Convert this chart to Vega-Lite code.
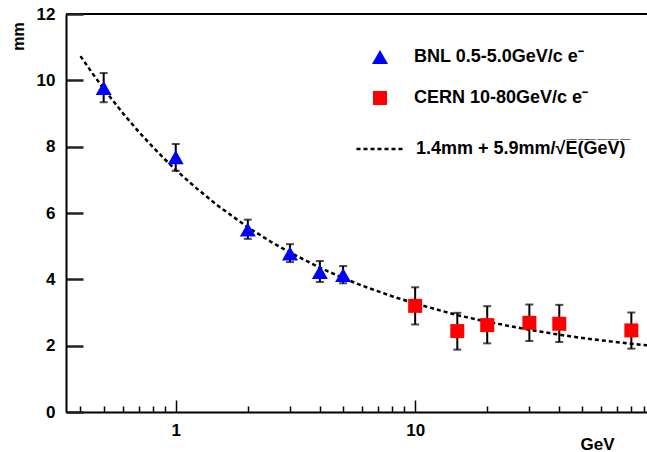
{
  "$schema": "https://vega.github.io/schema/vega-lite/v6.json",
  "width": 581,
  "height": 398,
  "autosize": {"type": "none"},
  "padding": {"left": 66, "top": 14, "right": 0, "bottom": 40},
  "background": "white",
  "config": {
    "view": {"stroke": "black", "strokeWidth": 2, "strokeDash": [581, 3000]},
    "font": "Liberation Sans"
  },
  "datasets": {
    "pts": [
      {"E": 0.5, "y": 9.77, "lo": 9.34, "hi": 10.22, "series": "BNL 0.5-5.0GeV/c e⁻"},
      {"E": 1, "y": 7.68, "lo": 7.27, "hi": 8.08, "series": "BNL 0.5-5.0GeV/c e⁻"},
      {"E": 2, "y": 5.5, "lo": 5.22, "hi": 5.8, "series": "BNL 0.5-5.0GeV/c e⁻"},
      {"E": 3, "y": 4.78, "lo": 4.52, "hi": 5.06, "series": "BNL 0.5-5.0GeV/c e⁻"},
      {"E": 4, "y": 4.22, "lo": 3.92, "hi": 4.55, "series": "BNL 0.5-5.0GeV/c e⁻"},
      {"E": 5, "y": 4.13, "lo": 3.88, "hi": 4.4, "series": "BNL 0.5-5.0GeV/c e⁻"},
      {"E": 10, "y": 3.2, "lo": 2.64, "hi": 3.76, "series": "CERN 10-80GeV/c e⁻"},
      {"E": 15, "y": 2.44, "lo": 1.88, "hi": 2.99, "series": "CERN 10-80GeV/c e⁻"},
      {"E": 20, "y": 2.62, "lo": 2.07, "hi": 3.19, "series": "CERN 10-80GeV/c e⁻"},
      {"E": 30, "y": 2.69, "lo": 2.14, "hi": 3.24, "series": "CERN 10-80GeV/c e⁻"},
      {"E": 40, "y": 2.66, "lo": 2.11, "hi": 3.23, "series": "CERN 10-80GeV/c e⁻"},
      {"E": 80, "y": 2.46, "lo": 1.91, "hi": 3.0, "series": "CERN 10-80GeV/c e⁻"}
    ],
    "fit": [
      {"E": 0.4, "y": 10.73, "label": "1.4mm + 5.9mm/√E\u0305(\u0305G\u0305e\u0305V\u0305)\u0305"},
      {"E": 0.45, "y": 10.2, "label": "1.4mm + 5.9mm/√E\u0305(\u0305G\u0305e\u0305V\u0305)\u0305"},
      {"E": 0.5, "y": 9.74, "label": "1.4mm + 5.9mm/√E\u0305(\u0305G\u0305e\u0305V\u0305)\u0305"},
      {"E": 0.6, "y": 9.02, "label": "1.4mm + 5.9mm/√E\u0305(\u0305G\u0305e\u0305V\u0305)\u0305"},
      {"E": 0.7, "y": 8.45, "label": "1.4mm + 5.9mm/√E\u0305(\u0305G\u0305e\u0305V\u0305)\u0305"},
      {"E": 0.8, "y": 8.0, "label": "1.4mm + 5.9mm/√E\u0305(\u0305G\u0305e\u0305V\u0305)\u0305"},
      {"E": 0.9, "y": 7.62, "label": "1.4mm + 5.9mm/√E\u0305(\u0305G\u0305e\u0305V\u0305)\u0305"},
      {"E": 1, "y": 7.3, "label": "1.4mm + 5.9mm/√E\u0305(\u0305G\u0305e\u0305V\u0305)\u0305"},
      {"E": 1.2, "y": 6.79, "label": "1.4mm + 5.9mm/√E\u0305(\u0305G\u0305e\u0305V\u0305)\u0305"},
      {"E": 1.5, "y": 6.22, "label": "1.4mm + 5.9mm/√E\u0305(\u0305G\u0305e\u0305V\u0305)\u0305"},
      {"E": 2, "y": 5.57, "label": "1.4mm + 5.9mm/√E\u0305(\u0305G\u0305e\u0305V\u0305)\u0305"},
      {"E": 2.5, "y": 5.13, "label": "1.4mm + 5.9mm/√E\u0305(\u0305G\u0305e\u0305V\u0305)\u0305"},
      {"E": 3, "y": 4.81, "label": "1.4mm + 5.9mm/√E\u0305(\u0305G\u0305e\u0305V\u0305)\u0305"},
      {"E": 4, "y": 4.35, "label": "1.4mm + 5.9mm/√E\u0305(\u0305G\u0305e\u0305V\u0305)\u0305"},
      {"E": 5, "y": 4.04, "label": "1.4mm + 5.9mm/√E\u0305(\u0305G\u0305e\u0305V\u0305)\u0305"},
      {"E": 6, "y": 3.81, "label": "1.4mm + 5.9mm/√E\u0305(\u0305G\u0305e\u0305V\u0305)\u0305"},
      {"E": 8, "y": 3.49, "label": "1.4mm + 5.9mm/√E\u0305(\u0305G\u0305e\u0305V\u0305)\u0305"},
      {"E": 10, "y": 3.27, "label": "1.4mm + 5.9mm/√E\u0305(\u0305G\u0305e\u0305V\u0305)\u0305"},
      {"E": 15, "y": 2.92, "label": "1.4mm + 5.9mm/√E\u0305(\u0305G\u0305e\u0305V\u0305)\u0305"},
      {"E": 20, "y": 2.72, "label": "1.4mm + 5.9mm/√E\u0305(\u0305G\u0305e\u0305V\u0305)\u0305"},
      {"E": 30, "y": 2.48, "label": "1.4mm + 5.9mm/√E\u0305(\u0305G\u0305e\u0305V\u0305)\u0305"},
      {"E": 40, "y": 2.33, "label": "1.4mm + 5.9mm/√E\u0305(\u0305G\u0305e\u0305V\u0305)\u0305"},
      {"E": 50, "y": 2.23, "label": "1.4mm + 5.9mm/√E\u0305(\u0305G\u0305e\u0305V\u0305)\u0305"},
      {"E": 60, "y": 2.16, "label": "1.4mm + 5.9mm/√E\u0305(\u0305G\u0305e\u0305V\u0305)\u0305"},
      {"E": 80, "y": 2.06, "label": "1.4mm + 5.9mm/√E\u0305(\u0305G\u0305e\u0305V\u0305)\u0305"},
      {"E": 93, "y": 2.01, "label": "1.4mm + 5.9mm/√E\u0305(\u0305G\u0305e\u0305V\u0305)\u0305"}
    ]
  },
  "layer": [
    {
      "data": {"name": "fit"},
      "mark": {"type": "line", "stroke": "black", "strokeWidth": 2.5},
      "encoding": {
        "x": {
          "field": "E", "type": "quantitative",
          "scale": {"type": "log", "domain": [0.348, 93], "nice": false},
          "axis": {
            "values": [0.4, 0.5, 0.6, 0.7, 0.8, 0.9, 1, 2, 3, 4, 5, 6, 7, 8, 9, 10, 20, 30, 40, 50, 60, 70, 80, 90],
            "labelExpr": "datum.value == 1 ? '1' : (datum.value == 10 ? '10' : '')",
            "tickSize": {"condition": {"test": "datum.value == 1 || datum.value == 10", "value": -12}, "value": -6},
            "tickColor": "black",
            "tickWidth": 1.5,
            "domainColor": "black",
            "domainWidth": 2,
            "grid": false,
            "labelFont": "Liberation Sans",
            "labelFontWeight": "bold",
            "labelFontSize": 17,
            "labelColor": "black",
            "labelBaseline": "top",
            "labelPadding": 22,
            "labelFlush": false,
            "labelOverlap": false,
            "title": "GeV",
            "titleX": 531,
            "titleY": 32,
            "titleAlign": "center",
            "titleBaseline": "middle",
            "titleFont": "Liberation Sans",
            "titleFontWeight": "bold",
            "titleFontSize": 17,
            "titleColor": "black"
          }
        },
        "y": {
          "field": "y", "type": "quantitative",
          "scale": {"domain": [0, 12], "nice": false},
          "axis": {
            "values": [0, 2, 4, 6, 8, 10, 12],
            "tickSize": -17,
            "tickColor": "#222222",
            "tickWidth": 2.5,
            "domainColor": "black",
            "domainWidth": 2,
            "grid": false,
            "labelFont": "Liberation Sans",
            "labelFontWeight": "bold",
            "labelFontSize": 17,
            "labelColor": "black",
            "labelPadding": 28,
            "labelFlush": false,
            "labelOverlap": false,
            "title": "mm",
            "titleX": -48,
            "titleY": 22,
            "titleAngle": -90,
            "titleAlign": "center",
            "titleBaseline": "middle",
            "titleFont": "Liberation Sans",
            "titleFontWeight": "bold",
            "titleFontSize": 16,
            "titleColor": "black"
          }
        },
        "strokeDash": {
          "field": "label", "type": "nominal",
          "scale": {"range": [[4, 3]]},
          "legend": {
            "orient": "none",
            "legendX": 289,
            "legendY": 110,
            "title": null,
            "padding": 0,
            "symbolType": "stroke",
            "symbolSize": 2209,
            "symbolStrokeWidth": 2.5,
            "symbolStrokeColor": "black",
            "labelOffset": 11,
            "labelFont": "Liberation Sans",
            "labelFontWeight": "bold",
            "labelFontSize": 18,
            "labelColor": "black",
            "labelLimit": 400
          }
        }
      }
    },
    {
      "data": {"name": "pts"},
      "mark": {"type": "rule", "color": "black", "strokeWidth": 2},
      "encoding": {
        "x": {"field": "E", "type": "quantitative", "scale": {"type": "log", "domain": [0.348, 93], "nice": false}},
        "y": {"field": "lo", "type": "quantitative"},
        "y2": {"field": "hi"}
      }
    },
    {
      "data": {"name": "pts"},
      "mark": {"type": "tick", "orient": "horizontal", "color": "black", "size": 8, "thickness": 2},
      "encoding": {
        "x": {"field": "E", "type": "quantitative", "scale": {"type": "log", "domain": [0.348, 93], "nice": false}},
        "y": {"field": "lo", "type": "quantitative"}
      }
    },
    {
      "data": {"name": "pts"},
      "mark": {"type": "tick", "orient": "horizontal", "color": "black", "size": 8, "thickness": 2},
      "encoding": {
        "x": {"field": "E", "type": "quantitative", "scale": {"type": "log", "domain": [0.348, 93], "nice": false}},
        "y": {"field": "hi", "type": "quantitative"}
      }
    },
    {
      "data": {"name": "pts"},
      "mark": {"type": "point", "filled": true, "opacity": 1, "strokeWidth": 0},
      "encoding": {
        "x": {"field": "E", "type": "quantitative", "scale": {"type": "log", "domain": [0.348, 93], "nice": false}},
        "y": {"field": "y", "type": "quantitative"},
        "color": {
          "field": "series", "type": "nominal",
          "scale": {"domain": ["BNL 0.5-5.0GeV/c e⁻", "CERN 10-80GeV/c e⁻"], "range": ["#0000ff", "#ff0000"]},
          "legend": {
            "orient": "none",
            "legendX": 305,
            "legendY": 34,
            "title": null,
            "padding": 0,
            "rowPadding": 23,
            "labelOffset": 25,
            "labelFont": "Liberation Sans",
            "labelFontWeight": "bold",
            "labelFontSize": 18,
            "labelColor": "black",
            "labelLimit": 400,
            "symbolOpacity": 1,
            "symbolStrokeWidth": 0
          }
        },
        "shape": {
          "field": "series", "type": "nominal",
          "scale": {"domain": ["BNL 0.5-5.0GeV/c e⁻", "CERN 10-80GeV/c e⁻"], "range": ["triangle-up", "square"]}
        },
        "size": {
          "field": "series", "type": "nominal",
          "scale": {"domain": ["BNL 0.5-5.0GeV/c e⁻", "CERN 10-80GeV/c e⁻"], "range": [256, 196]}
        }
      }
    }
  ]
}
